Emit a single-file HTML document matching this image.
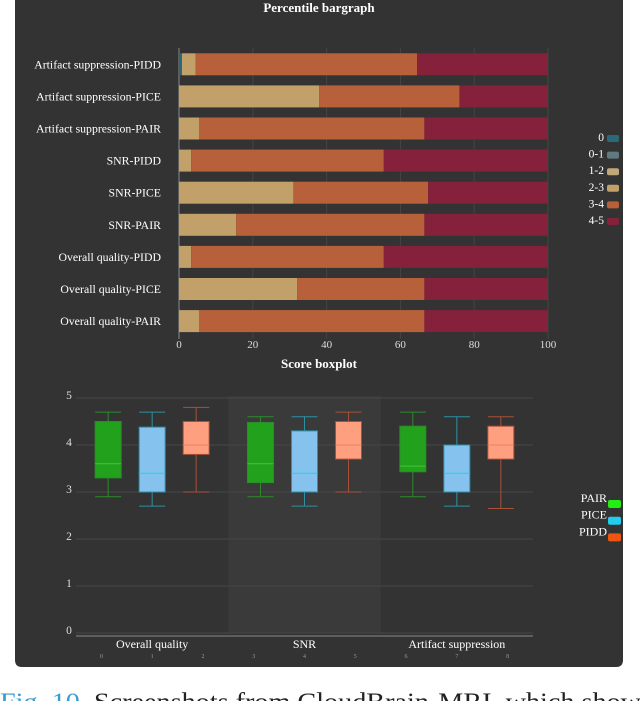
<!DOCTYPE html>
<html><head><meta charset="utf-8"><style>
html,body{margin:0;padding:0;background:#fff;width:640px;height:701px;overflow:hidden}
svg{display:block;font-family:"Liberation Serif",serif}
</style></head><body>
<svg id="s" width="640" height="701" viewBox="0 0 640 701">
<path d="M15,0 H623 V660 Q623,667 616,667 H22 Q15,667 15,660 Z" fill="#333333"/>
<text x="319" y="12" fill="#fff" font-size="13" font-weight="bold" text-anchor="middle">Percentile bargraph</text>
<g id="bar"></g>
<text x="319" y="368" fill="#fff" font-size="13" font-weight="bold" text-anchor="middle">Score boxplot</text>
<g id="box"></g>
<text x="0" y="710" font-size="25" textLength="652" lengthAdjust="spacingAndGlyphs"><tspan fill="#3a9ad0">Fig. 10.</tspan><tspan fill="#222"> Screenshots from CloudBrain-MRI, which shows</tspan></text>
</svg>
<script>
const barCategories=["Artifact suppression-PIDD","Artifact suppression-PICE","Artifact suppression-PAIR","SNR-PIDD","SNR-PICE","SNR-PAIR","Overall quality-PIDD","Overall quality-PICE","Overall quality-PAIR"];
const binLabels=["0","0-1","1-2","2-3","3-4","4-5"];
const bin0=[0.8,0,0,0,0,0,0,0,0];
const bin01=[0,0,0,0,0,0,0,0,0];
const bin12=[0,0,0,0,0,0,0,0,0];
const bin23=[3.7,38,5.5,3.3,31,15.5,3.3,32,5.5];
const bin34=[60,38,61,52.2,36.5,51,52.2,34.5,61];
const bin45=[35.5,24,33.5,44.5,32.5,33.5,44.5,33.5,33.5];
const xTicks=[0,20,40,60,80,100];
const boxCategories=["Overall quality","SNR","Artifact suppression"];
const boxSeries=["PAIR","PICE","PIDD"];
const whiskerLow=[2.9,2.7,3.0,2.9,2.7,3.0,2.9,2.7,2.65];
const q1=[3.3,3.0,3.8,3.2,3.0,3.7,3.43,3.0,3.7];
const medians=[3.6,3.4,4.0,3.6,3.4,4.0,3.55,3.4,4.0];
const q3=[4.5,4.38,4.5,4.48,4.3,4.5,4.4,4.0,4.4];
const whiskerHigh=[4.7,4.7,4.8,4.6,4.6,4.7,4.7,4.6,4.6];
const yTicks=[0,1,2,3,4,5];

const NS="http://www.w3.org/2000/svg";
function mk(parent,tag,attrs,text){const e=document.createElementNS(NS,tag);for(const k in attrs)e.setAttribute(k,attrs[k]);if(text!==undefined)e.textContent=text;parent.appendChild(e);return e;}

// bar chart
const bg=document.getElementById('bar');
const X0=179,X1=548,BT=53.3,PITCH=32.1,BH=22;
const xs=v=>X0+(X1-X0)*v/100;
const binColors=["#2a6a78","#5f7b80","#bfa77a","#c1a06a","#b8603a","#86213c"];
const bins=[bin0,bin01,bin12,bin23,bin34,bin45];
xTicks.forEach(t=>{
 const l=mk(bg,'line',{x1:xs(t),x2:xs(t),y1:48,y2:339,stroke:'#444','stroke-width':1});
 
 
 const tx=mk(bg,'text',{x:xs(t),y:348,fill:'#ddd','font-size':11,'text-anchor':'middle'},String(t));
 
 
});
const ax=mk(bg,'line',{x1:X0,x2:X0,y1:48,y2:339,stroke:'#888','stroke-width':1});


barCategories.forEach((c,i)=>{
 const y=BT+PITCH*i;
 const t=mk(bg,'text',{x:161,y:y+11+4,fill:'#fff','font-size':11.8,'text-anchor':'end'},c);
 
 
 let acc=0;
 bins.forEach((b,j)=>{
  const v=b[i]; if(v<=0)return;
  const r=mk(bg,'rect',{x:xs(acc),y:y,width:xs(acc+v)-xs(acc),height:BH,fill:binColors[j]});
  
  
  acc+=v;
 });
});
binLabels.forEach((b,j)=>{
 const y=138+16.6*j;
 const t=mk(bg,'text',{x:604,y:y+3,fill:'#fff','font-size':11.5,'text-anchor':'end'},b);
 
 
 const r=mk(bg,'rect',{x:607,y:y-3,width:12,height:7,rx:2,fill:binColors[j]});
 
 
});

// boxplot
const bx=document.getElementById('box');
const PX0=76,PX1=533,Y0=633,Y5=398;
const ys=v=>Y0-(Y0-Y5)*v/5;
const gw=(PX1-PX0)/3;
const band=mk(bx,'rect',{x:PX0+gw,y:Y5-2,width:gw,height:Y0-Y5+2,fill:'#3a3a3a'});


yTicks.forEach(t=>{
 const l=mk(bx,'line',{x1:PX0,x2:PX1,y1:ys(t),y2:ys(t),stroke:'#474747','stroke-width':1});
 
 
 const tx=mk(bx,'text',{x:69,y:ys(t)+1,fill:'#ddd','font-size':11.5,'text-anchor':'middle'},String(t));
 
 
});
const xa=mk(bx,'line',{x1:PX0,x2:PX1,y1:Y0+3,y2:Y0+3,stroke:'#777','stroke-width':1.2});


boxCategories.forEach((c,g)=>{
 const t=mk(bx,'text',{x:PX0+gw*(g+0.5),y:648,fill:'#fff','font-size':12,'text-anchor':'middle'},c);
 
 
});
const fills=["#22a11c","#85c2ee","#fe9f80"];
const strokes=["#2d8c2a","#2b91a5","#a85038"];
const medC=["#46c23a","#22d0ee","#f08060"];
const legC=["#22ee11","#22ccee","#ee5511"];
whiskerLow.forEach((w,i)=>{
 const g=Math.floor(i/3),s=i%3;
 const cx=PX0+gw*(g+0.5)+(s-1)*44, hw=13;
 const gr=mk(bx,'g',{});
 
 
 mk(gr,'line',{x1:cx,x2:cx,y1:ys(w),y2:ys(whiskerHigh[i]),stroke:strokes[s],'stroke-width':1});
 mk(gr,'line',{x1:cx-hw,x2:cx+hw,y1:ys(w),y2:ys(w),stroke:strokes[s],'stroke-width':1});
 mk(gr,'line',{x1:cx-hw,x2:cx+hw,y1:ys(whiskerHigh[i]),y2:ys(whiskerHigh[i]),stroke:strokes[s],'stroke-width':1});
 mk(gr,'rect',{x:cx-hw,y:ys(q3[i]),width:hw*2,height:ys(q1[i])-ys(q3[i]),fill:fills[s],stroke:strokes[s],'stroke-width':1});
 mk(gr,'line',{x1:cx-hw,x2:cx+hw,y1:ys(medians[i]),y2:ys(medians[i]),stroke:medC[s],'stroke-width':1});
 const t=mk(bx,'text',{x:PX0+gw*(g+0.5)+(s-1)*50.8,y:658,fill:'#999','font-size':6,'text-anchor':'middle'},String(i));
 
 
});
boxSeries.forEach((b,j)=>{
 const y=502+16.7*j;
 const t=mk(bx,'text',{x:607,y:y,fill:'#fff','font-size':12,'text-anchor':'end'},b);
 
 
 const r=mk(bx,'rect',{x:608,y:y-2,width:13,height:8,rx:2,fill:legC[j]});
 
 
});
</script>
</body></html>
